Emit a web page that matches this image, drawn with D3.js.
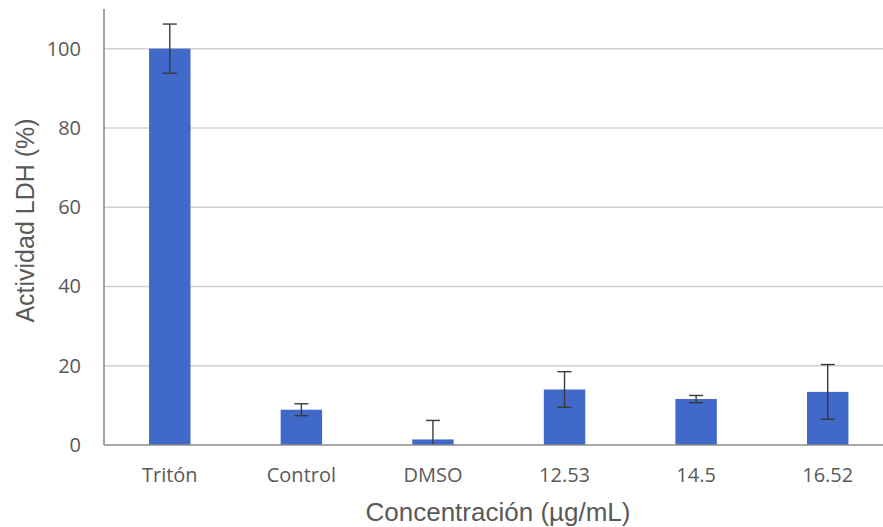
<!DOCTYPE html>
<html><head><meta charset="utf-8">
<script src="https://cdn.jsdelivr.net/npm/d3@7"></script>
<style>body{margin:0;background:#fff}svg{display:block}</style>
</head><body>
<svg id="chart" width="883" height="527"></svg>
<script>
const categories = ["Tritón", "Control", "DMSO", "12.53", "14.5", "16.52"];
const values = [100, 8.9, 1.4, 14.0, 11.6, 13.4];
const errors = [6.2, 1.5, 4.8, 4.5, 0.9, 6.9];
const yTicks = [0, 20, 40, 60, 80, 100];
const xTitle = "Concentración (µg/mL)";
const yTitle = "Actividad LDH (%)";

const svg = d3.select("#chart");
const mLeft = 104, mRight = 893.5, mTop = 9, mBottom = 445;
const x = d3.scaleBand().domain(categories).range([mLeft, mRight]).paddingInner(0.685).paddingOuter(0.3425);
const y = d3.scaleLinear().domain([0, 110]).range([mBottom, mTop]);

const tickFont = "'Open Sans', 'Noto Sans', sans-serif";
const titleFont = "'Liberation Sans', Arial, sans-serif";
const textColor = "#595959";

// gridlines
svg.append("g").selectAll("line").data(yTicks.filter(d => d > 0)).join("line")
  .attr("x1", mLeft).attr("x2", mRight)
  .attr("y1", d => y(d)).attr("y2", d => y(d))
  .attr("stroke", "#d2d2d2").attr("stroke-width", 1.5);

// bars
svg.append("g").selectAll("rect").data(categories).join("rect")
  .attr("x", d => x(d)).attr("width", x.bandwidth())
  .attr("y", (d, i) => y(values[i])).attr("height", (d, i) => y(0) - y(values[i]))
  .attr("fill", "#4169c9");

// error bars
const eb = svg.append("g").attr("stroke", "#3a3a3a").attr("stroke-width", 1.4);
categories.forEach((c, i) => {
  const cx = x(c) + x.bandwidth() / 2;
  const hi = y(values[i] + errors[i]);
  const lo = y(Math.max(0, values[i] - errors[i]));
  eb.append("line").attr("x1", cx).attr("x2", cx).attr("y1", hi).attr("y2", lo);
  eb.append("line").attr("x1", cx - 7).attr("x2", cx + 7).attr("y1", hi).attr("y2", hi);
  if (values[i] - errors[i] > 0)
    eb.append("line").attr("x1", cx - 7).attr("x2", cx + 7).attr("y1", lo).attr("y2", lo);
});

// axes
const yAxis = svg.append("g").attr("transform", `translate(${mLeft},0)`)
  .call(d3.axisLeft(y).tickValues(yTicks).tickSize(0).tickPadding(23));
yAxis.select(".domain").attr("stroke", "#8c8c8c").attr("stroke-width", 1.6)
  .attr("d", `M0,${mTop}V${mBottom}`);
yAxis.selectAll("text").attr("font-family", tickFont).attr("font-size", 20).attr("fill", textColor);

const xAxis = svg.append("g").attr("transform", `translate(0,${mBottom})`)
  .call(d3.axisBottom(x).tickSize(0).tickPadding(22.5));
xAxis.select(".domain").attr("stroke", "#8c8c8c").attr("stroke-width", 1.6)
  .attr("d", `M${mLeft},0H${mRight}`);
xAxis.selectAll("text").attr("font-family", tickFont).attr("font-size", 20).attr("fill", textColor);

// titles
svg.append("text").attr("x", 498).attr("y", 521)
  .attr("text-anchor", "middle").attr("font-family", titleFont).attr("font-size", 26)
  .attr("fill", textColor).text(xTitle);
svg.append("text").attr("transform", `translate(34,220.5) rotate(-90)`)
  .attr("text-anchor", "middle").attr("font-family", titleFont).attr("font-size", 25)
  .attr("fill", textColor).text(yTitle);
</script>
</body></html>
